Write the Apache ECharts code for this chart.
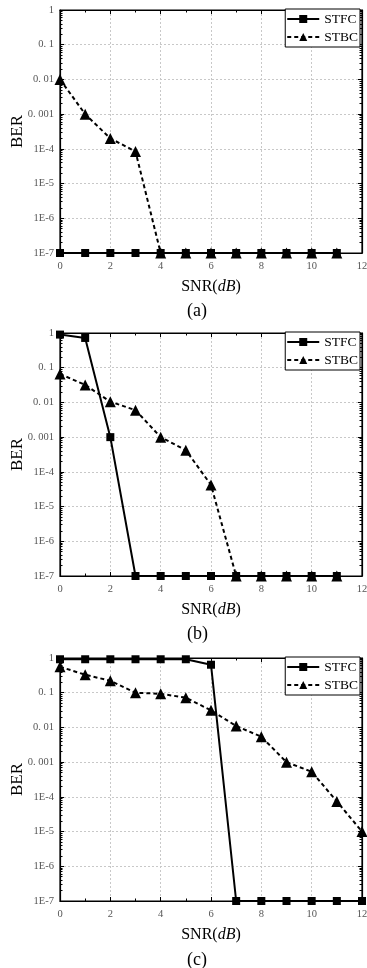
<!DOCTYPE html>
<html><head><meta charset="utf-8">
<script src="https://cdn.jsdelivr.net/npm/echarts@6/dist/echarts.min.js"></script>
<style>html,body{margin:0;padding:0;background:#fff}#c{width:367px;height:968px}</style>
</head><body><div id="c"></div>
<script>
// ---- data ----
const yTickLabels = ['1E-7','1E-6','1E-5','1E-4','0. 001','0. 01','0. 1','1'];
const xTickLabels = ['0','2','4','6','8','10','12'];
const panelLabels = ['(a)','(b)','(c)'];
const seriesNames = ['STFC','STBC'];

const snrA = [0,1,2,3,4,5,6,7,8,9,10,11];
const stfcA = [1e-7,1e-7,1e-7,1e-7,1e-7,1e-7,1e-7,1e-7,1e-7,1e-7,1e-7,1e-7];
const stbcA = [0.01,0.001,2e-4,8.4e-5,1e-7,1e-7,1e-7,1e-7,1e-7,1e-7,1e-7,1e-7];

const snrB = [0,1,2,3,4,5,6,7,8,9,10,11];
const stfcB = [0.9,0.72,0.001,1e-7,1e-7,1e-7,1e-7,1e-7,1e-7,1e-7,1e-7,1e-7];
const stbcB = [0.066,0.032,0.0105,0.006,0.001,4.2e-4,4.2e-5,1e-7,1e-7,1e-7,1e-7,1e-7];

const snrC = [0,1,2,3,4,5,6,7,8,9,10,11,12];
const stfcC = [0.92,0.92,0.92,0.92,0.92,0.92,0.64,1e-7,1e-7,1e-7,1e-7,1e-7,1e-7];
const stbcC = [0.56,0.33,0.22,0.1,0.093,0.072,0.031,0.011,0.0054,0.001,5.3e-4,7.4e-5,1e-5];

const panels = [
  {x: snrA, stfc: stfcA, stbc: stbcA},
  {x: snrB, stfc: stfcB, stbc: stbcB},
  {x: snrC, stfc: stfcC, stbc: stbcC}
];

// ---- layout ----
const gridTops = [10, 333, 658];
const gridH = 243;
const panelLabelTops = [302, 625, 951];
const gridLeft = 60, gridRight = 5;
const serif = '"Liberation Serif","Times New Roman",serif';
const tickFont = '"Liberation Serif",serif';

const chart = echarts.init(document.getElementById('c'), null, {renderer:'canvas'});

const grid = [], xAxis = [], yAxis = [], series = [], legend = [], graphic = [];
panels.forEach((p, i) => {
  grid.push({left: gridLeft, right: gridRight, top: gridTops[i], height: gridH,
    containLabel: false, outerBoundsMode: 'none',
    show: true, borderColor: '#000', borderWidth: 1.2, backgroundColor: 'transparent'});
  const xBase = {gridIndex: i, type: 'value', min: 0, max: 12, interval: 2};
  xAxis.push(Object.assign({}, xBase, {
    position: 'bottom',
    name: 'SNR({i|dB})', nameLocation: 'middle', nameGap: 26,
    nameTextStyle: {fontFamily: serif, fontSize: 16, color: '#000',
      rich: {i: {fontFamily: serif, fontSize: 16, fontStyle: 'italic', color: '#000'}}},
    axisLine: {show: true, onZero: false, lineStyle: {color: '#000', width: 1.2}},
    axisTick: {show: true, inside: true, length: 4, lineStyle: {color: '#000'}},
    minorTick: {show: true, splitNumber: 2, length: 2.5, lineStyle: {color: '#000'}},
    axisLabel: {margin: 8, fontFamily: tickFont, fontSize: 10.5, color: '#555',
      formatter: v => xTickLabels[Math.round(v / 2)]},
    splitLine: {show: true, lineStyle: {color: '#c8c8c8', type: [2, 2], width: 1}}
  }));
  xAxis.push(Object.assign({}, xBase, {
    position: 'top',
    axisLine: {show: true, onZero: false, lineStyle: {color: '#000', width: 1.2}},
    axisTick: {show: true, inside: true, length: 4, lineStyle: {color: '#000'}},
    minorTick: {show: true, splitNumber: 2, length: 2.5, lineStyle: {color: '#000'}},
    axisLabel: {show: false}, splitLine: {show: false}
  }));
  const yBase = {gridIndex: i, type: 'log', logBase: 10, min: 1e-7, max: 1, splitNumber: 7};
  yAxis.push(Object.assign({}, yBase, {
    position: 'left',
    name: 'BER', nameLocation: 'middle', nameGap: 34, nameRotate: 90,
    nameMoveOverlap: false,
    nameTextStyle: {fontFamily: serif, fontSize: 17, color: '#000'},
    axisLine: {show: true, onZero: false, lineStyle: {color: '#000', width: 1.2}},
    axisTick: {show: true, inside: true, length: 4, lineStyle: {color: '#000'}},
    minorTick: {show: true, splitNumber: 9, length: 2.5, lineStyle: {color: '#000'}},
    axisLabel: {margin: 6, fontFamily: tickFont, fontSize: 10.5, color: '#555',
      formatter: v => yTickLabels[Math.round(Math.log10(v)) + 7]},
    splitLine: {show: true, lineStyle: {color: '#c8c8c8', type: [2, 2], width: 1}}
  }));
  yAxis.push(Object.assign({}, yBase, {
    position: 'right',
    axisLine: {show: true, onZero: false, lineStyle: {color: '#000', width: 1.2}},
    axisTick: {show: true, inside: true, length: 4, lineStyle: {color: '#000'}},
    minorTick: {show: true, splitNumber: 9, length: 2.5, lineStyle: {color: '#000'}},
    axisLabel: {show: false}, splitLine: {show: false}
  }));
  series.push({
    name: seriesNames[0], type: 'line', xAxisIndex: 2*i, yAxisIndex: 2*i,
    data: p.x.map((x, k) => [x, p.stfc[k]]),
    symbol: 'rect', symbolSize: 8, color: '#000',
    lineStyle: {color: '#000', width: 2, type: 'solid'},
    itemStyle: {color: '#000'}, z: 3, animation: false, clip: false
  });
  series.push({
    name: seriesNames[1], type: 'line', xAxisIndex: 2*i, yAxisIndex: 2*i,
    data: p.x.map((x, k) => [x, p.stbc[k]]),
    symbol: 'triangle', symbolSize: 11, color: '#000',
    lineStyle: {color: '#000', width: 2, type: [4, 3]},
    itemStyle: {color: '#000'}, z: 4, animation: false, clip: false
  });
  legend.push({
    data: seriesNames, orient: 'vertical', right: 7, top: gridTops[i] - 1,
    backgroundColor: '#fff', borderColor: '#000', borderWidth: 1, borderRadius: 0,
    padding: [3, 2, 3, 1], itemGap: 4, itemWidth: 32, itemHeight: 10,
    textStyle: {fontFamily: serif, fontSize: 13.5, color: '#000'},
    selectedMode: false
  });
  graphic.push({
    type: 'text', left: 187, top: panelLabelTops[i],
    style: {text: panelLabels[i], font: '18px ' + serif, fill: '#000'}
  });
});

chart.setOption({animation: false, grid, xAxis, yAxis, series, legend, graphic});
</script></body></html>
